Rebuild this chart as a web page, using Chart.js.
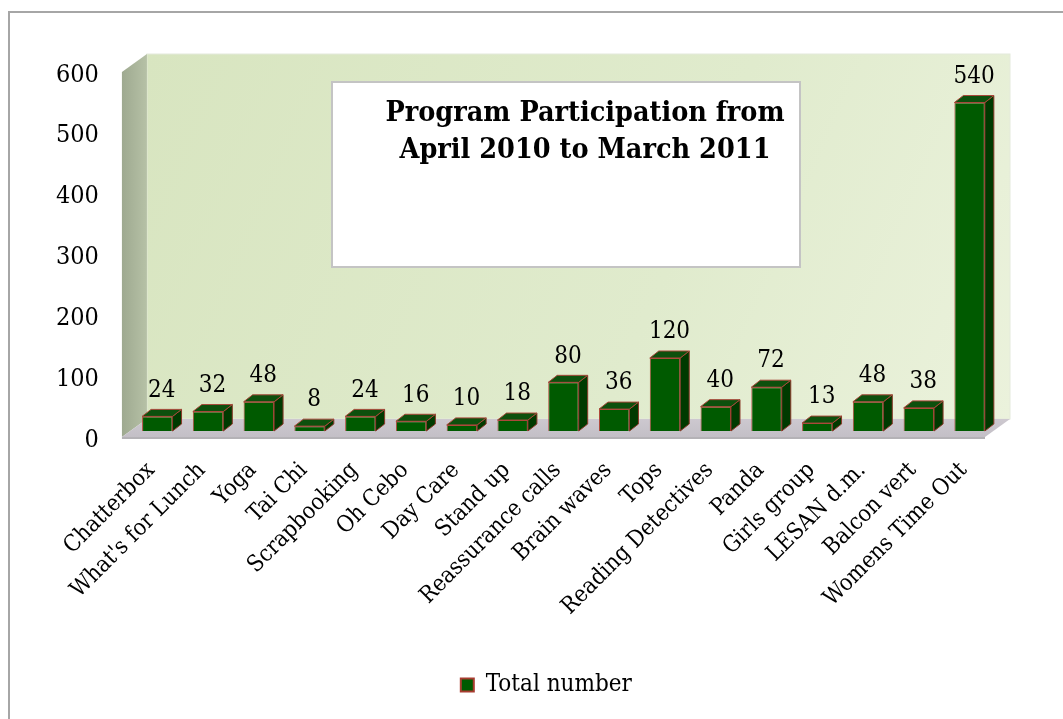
<!DOCTYPE html>
<html>
<head>
<meta charset="utf-8">
<script src="https://cdn.jsdelivr.net/npm/chart.js@4.4.0/dist/chart.umd.min.js"></script>
<style>
  html, body { margin: 0; padding: 0; background: #fff; overflow: hidden; }
  #frame { position: absolute; left: 8px; top: 11px; width: 1100px; height: 760px; border: 2px solid #a6a6a6; box-sizing: border-box; }
  #wrap { position: absolute; left: 0; top: 0; width: 1063px; height: 719px; }
</style>
</head>
<body>
<div id="frame"></div>
<div id="wrap"><canvas id="chart"></canvas></div>
<script>
// data
const categories = ['Chatterbox', "What's for Lunch", 'Yoga', 'Tai Chi', 'Scrapbooking', 'Oh Cebo', 'Day Care',
  'Stand up', 'Reassurance calls', 'Brain waves', 'Tops', 'Reading Detectives', 'Panda', 'Girls group',
  'LESAN d.m.', 'Balcon vert', 'Womens Time Out'];
const totals = [24, 32, 48, 8, 24, 16, 10, 18, 80, 36, 120, 40, 72, 13, 48, 38, 540];
const seriesName = 'Total number';
const titleLines = ['Program Participation from', 'April 2010 to March 2011'];

const FONT = "'DejaVu Serif Condensed', 'DejaVu Serif', serif";
// 3D offsets
const BAR_DX = 9, BAR_DY = -7;
const FRONT = [-10, 6], BACK = [15, -12];

function poly(ctx, pts, fill, stroke){
  ctx.beginPath();
  ctx.moveTo(pts[0][0], pts[0][1]);
  for(let i = 1; i < pts.length; i++) ctx.lineTo(pts[i][0], pts[i][1]);
  ctx.closePath();
  if(fill){ ctx.fillStyle = fill; ctx.fill(); }
  if(stroke){ ctx.strokeStyle = stroke; ctx.lineWidth = 1; ctx.stroke(); }
}

// walls, floor and title box
const wallsPlugin = {
  id: 'walls',
  beforeDatasetsDraw(chart){
    const ctx = chart.ctx;
    const a = chart.chartArea;
    const fl = a.left + FRONT[0], ft = a.top + FRONT[1], fb = a.bottom + FRONT[1], fr = a.right + FRONT[0];
    const bl = a.left + BACK[0], bt = a.top + BACK[1], bb = a.bottom + BACK[1], br = a.right + BACK[0];
    ctx.save();
    // back wall
    let g = ctx.createLinearGradient(bl, bt, br, bb);
    g.addColorStop(0, '#d8e5c0');
    g.addColorStop(0.6, '#e0ebcd');
    g.addColorStop(1, '#ebf2dc');
    ctx.fillStyle = g;
    ctx.fillRect(bl, bt, br - bl, bb - bt);
    ctx.strokeStyle = '#e4eadb';
    ctx.strokeRect(bl, bt, br - bl, bb - bt);
    // left wall
    g = ctx.createLinearGradient(fl, 0, bl, 0);
    g.addColorStop(0, '#9ea990');
    g.addColorStop(1, '#b6c1a6');
    poly(ctx, [[fl, ft], [bl, bt], [bl, bb], [fl, fb]], g);
    // floor
    g = ctx.createLinearGradient(0, bb, 0, fb);
    g.addColorStop(0, '#cdc8cf');
    g.addColorStop(1, '#c3bfc6');
    poly(ctx, [[fl, fb], [bl, bb], [br, bb], [fr, fb]], g);
    ctx.fillStyle = '#b4b2b6';
    ctx.fillRect(fl, fb, fr - fl, 2);
    // title box
    const x0 = 332, y0 = 82, x1 = 800, y1 = 267;
    ctx.fillStyle = '#ffffff';
    ctx.fillRect(x0, y0, x1 - x0, y1 - y0);
    ctx.strokeStyle = '#c4c4c4';
    ctx.lineWidth = 2;
    ctx.strokeRect(x0, y0, x1 - x0, y1 - y0);
    ctx.fillStyle = '#000';
    ctx.font = "bold 28.5px " + FONT;
    ctx.textAlign = 'center';
    ctx.textBaseline = 'middle';
    ctx.fillText(titleLines[0], 585, 114);
    ctx.fillText(titleLines[1], 585, 151);
    ctx.restore();
  }
};

// side and top faces of bars + value labels
const bars3dPlugin = {
  id: 'bars3d',
  afterDatasetsDraw(chart){
    const ctx = chart.ctx;
    const meta = chart.getDatasetMeta(0);
    ctx.save();
    meta.data.forEach((bar, i) => {
      const p = bar.getProps(['x', 'y', 'base', 'width'], true);
      const l = p.x - p.width / 2, r = p.x + p.width / 2;
      // side
      poly(ctx, [[r, p.y], [r + BAR_DX, p.y + BAR_DY], [r + BAR_DX, p.base + BAR_DY], [r, p.base]], '#003a00', '#8a3a2a');
      // top
      poly(ctx, [[l, p.y], [l + BAR_DX, p.y + BAR_DY], [r + BAR_DX, p.y + BAR_DY], [r, p.y]], '#0d500d', '#a8483a');
      // label
      ctx.fillStyle = '#000';
      ctx.font = "24px " + FONT;
      ctx.textAlign = 'center';
      ctx.textBaseline = 'bottom';
      ctx.fillText(String(totals[i]), p.x + BAR_DX / 2, p.y + BAR_DY - 7);
    });
    ctx.restore();
  }
};

new Chart(document.getElementById('chart').getContext('2d'), {
  type: 'bar',
  data: {
    labels: categories,
    datasets: [{
      label: seriesName,
      data: totals,
      backgroundColor: '#005a00',
      borderColor: '#b04a3c',
      borderWidth: 1,
      barPercentage: 0.6,
      categoryPercentage: 1
    }]
  },
  options: {
    responsive: true,
    maintainAspectRatio: false,
    animation: false,
    layout: { padding: { left: 23, right: 68, top: 66, bottom: 12 } },
    plugins: {
      title: { display: false },
      tooltip: { enabled: false },
      legend: {
        position: 'bottom',
        fullSize: false,
        labels: {
          boxWidth: 13, boxHeight: 13, padding: 10,
          color: '#000', font: { family: FONT, size: 24 },
          generateLabels: (chart) => [{
            text: seriesName + '     ', fillStyle: '#005a00', strokeStyle: '#a83c30', lineWidth: 2, datasetIndex: 0
          }]
        }
      }
    },
    scales: {
      x: {
        grid: { display: false, drawTicks: false },
        border: { display: false },
        ticks: {
          autoSkip: false, maxRotation: 45, minRotation: 45,
          color: '#000', font: { family: FONT, size: 23 }, padding: 26, labelOffset: -6
        },
        afterFit: (scale) => {
          scale.height = 232;
          scale.paddingLeft = 0;
          scale.paddingRight = 0;
        }
      },
      y: {
        min: 0, max: 600,
        grid: { display: false, drawTicks: false },
        border: { display: false },
        ticks: {
          stepSize: 100, color: '#000', font: { family: FONT, size: 25 }, padding: 33, labelOffset: 9
        }
      }
    }
  },
  plugins: [wallsPlugin, bars3dPlugin]
});
</script>
</body>
</html>
